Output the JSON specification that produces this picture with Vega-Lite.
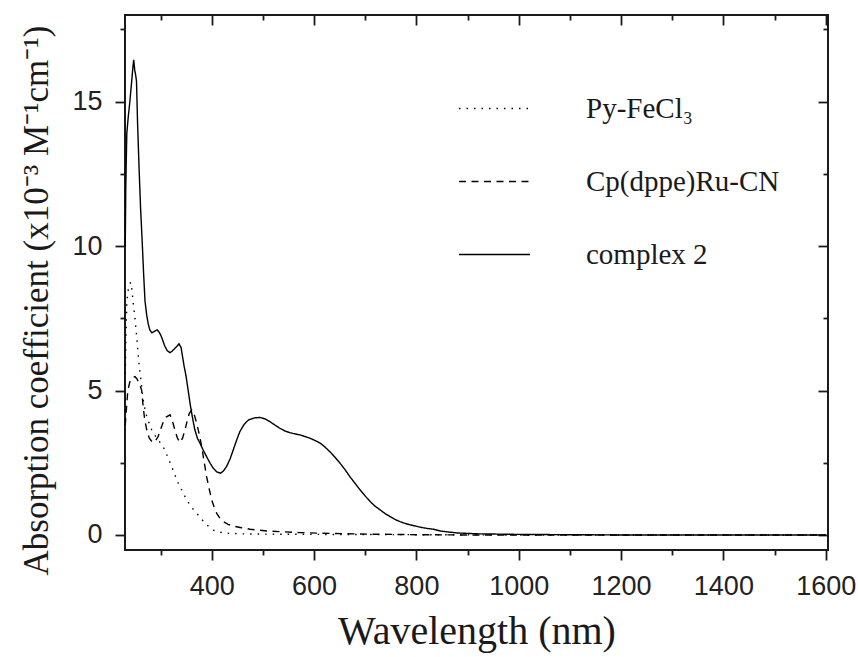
{
  "$schema": "https://vega.github.io/schema/vega-lite/v6.json",
  "width": 703,
  "height": 535,
  "autosize": {"type": "none"},
  "padding": {"left": 125, "top": 15, "right": 30, "bottom": 107},
  "background": "white",
  "config": {
    "view": {"stroke": "#1a1a1a", "strokeWidth": 2},
    "axis": {"grid": false, "domain": false, "tickColor": "#1a1a1a", "tickWidth": 1.8, "labelFont": "Liberation Sans", "labelFontSize": 27, "labelColor": "#222222", "titleFont": "Liberation Serif", "titleFontWeight": "normal", "titleColor": "#1a1a1a"}
  },
  "data": {"values": [
    {"s":"complex 2","w":231,"a":10.0},{"s":"complex 2","w":232,"a":12.0},{"s":"complex 2","w":234,"a":13.9},{"s":"complex 2","w":237,"a":14.5},{"s":"complex 2","w":240,"a":15.0},{"s":"complex 2","w":243,"a":15.6},{"s":"complex 2","w":246,"a":16.2},{"s":"complex 2","w":247.5,"a":16.45},{"s":"complex 2","w":249.5,"a":16.1},{"s":"complex 2","w":251.5,"a":15.9},{"s":"complex 2","w":253,"a":15.7},{"s":"complex 2","w":255,"a":14.3},{"s":"complex 2","w":258,"a":12.7},{"s":"complex 2","w":261,"a":11.3},{"s":"complex 2","w":264.5,"a":10.0},{"s":"complex 2","w":267,"a":9.0},{"s":"complex 2","w":269.6,"a":8.1},{"s":"complex 2","w":273,"a":7.6},{"s":"complex 2","w":276,"a":7.3},{"s":"complex 2","w":279,"a":7.1},{"s":"complex 2","w":283,"a":7.0},{"s":"complex 2","w":288,"a":7.05},{"s":"complex 2","w":293.5,"a":7.1},{"s":"complex 2","w":298,"a":7.0},{"s":"complex 2","w":302,"a":6.85},{"s":"complex 2","w":308,"a":6.55},{"s":"complex 2","w":313,"a":6.38},{"s":"complex 2","w":318.5,"a":6.31},{"s":"complex 2","w":323,"a":6.37},{"s":"complex 2","w":328,"a":6.46},{"s":"complex 2","w":333,"a":6.55},{"s":"complex 2","w":336,"a":6.62},{"s":"complex 2","w":338,"a":6.55},{"s":"complex 2","w":340,"a":6.5},{"s":"complex 2","w":343,"a":6.17},{"s":"complex 2","w":346,"a":5.85},{"s":"complex 2","w":350,"a":5.48},{"s":"complex 2","w":354,"a":5.0},{"s":"complex 2","w":357.6,"a":4.56},{"s":"complex 2","w":362,"a":4.1},{"s":"complex 2","w":367,"a":3.64},{"s":"complex 2","w":372,"a":3.35},{"s":"complex 2","w":377,"a":3.18},{"s":"complex 2","w":383,"a":2.95},{"s":"complex 2","w":390,"a":2.71},{"s":"complex 2","w":397,"a":2.48},{"s":"complex 2","w":403,"a":2.31},{"s":"complex 2","w":410,"a":2.18},{"s":"complex 2","w":417.6,"a":2.14},{"s":"complex 2","w":423,"a":2.22},{"s":"complex 2","w":429,"a":2.37},{"s":"complex 2","w":436,"a":2.64},{"s":"complex 2","w":442,"a":2.94},{"s":"complex 2","w":449,"a":3.3},{"s":"complex 2","w":455,"a":3.58},{"s":"complex 2","w":463,"a":3.82},{"s":"complex 2","w":471.6,"a":3.98},{"s":"complex 2","w":483,"a":4.05},{"s":"complex 2","w":494,"a":4.07},{"s":"complex 2","w":504,"a":4.02},{"s":"complex 2","w":514,"a":3.92},{"s":"complex 2","w":524,"a":3.8},{"s":"complex 2","w":533.5,"a":3.69},{"s":"complex 2","w":543,"a":3.6},{"s":"complex 2","w":553,"a":3.54},{"s":"complex 2","w":563,"a":3.5},{"s":"complex 2","w":573,"a":3.46},{"s":"complex 2","w":582,"a":3.41},{"s":"complex 2","w":592,"a":3.35},{"s":"complex 2","w":602,"a":3.27},{"s":"complex 2","w":612,"a":3.18},{"s":"complex 2","w":621,"a":3.05},{"s":"complex 2","w":631,"a":2.88},{"s":"complex 2","w":641,"a":2.69},{"s":"complex 2","w":651,"a":2.48},{"s":"complex 2","w":661,"a":2.25},{"s":"complex 2","w":670,"a":2.02},{"s":"complex 2","w":680,"a":1.79},{"s":"complex 2","w":690,"a":1.56},{"s":"complex 2","w":700,"a":1.35},{"s":"complex 2","w":710,"a":1.15},{"s":"complex 2","w":719,"a":1.0},{"s":"complex 2","w":729,"a":0.87},{"s":"complex 2","w":739,"a":0.74},{"s":"complex 2","w":749,"a":0.63},{"s":"complex 2","w":758,"a":0.54},{"s":"complex 2","w":768,"a":0.46},{"s":"complex 2","w":778,"a":0.4},{"s":"complex 2","w":788,"a":0.35},{"s":"complex 2","w":798,"a":0.31},{"s":"complex 2","w":807,"a":0.27},{"s":"complex 2","w":820,"a":0.23},{"s":"complex 2","w":833,"a":0.2},{"s":"complex 2","w":846,"a":0.14},{"s":"complex 2","w":859,"a":0.11},{"s":"complex 2","w":880,"a":0.07},{"s":"complex 2","w":920,"a":0.04},{"s":"complex 2","w":1000,"a":0.02},{"s":"complex 2","w":1100,"a":0.01},{"s":"complex 2","w":1200,"a":0.0},{"s":"complex 2","w":1400,"a":0.0},{"s":"complex 2","w":1600,"a":0.0},

    {"s":"Py-FeCl₃","w":231,"a":5.6},{"s":"Py-FeCl₃","w":232,"a":6.5},{"s":"Py-FeCl₃","w":233,"a":7.4},{"s":"Py-FeCl₃","w":234,"a":8.0},{"s":"Py-FeCl₃","w":236,"a":8.4},{"s":"Py-FeCl₃","w":238,"a":8.6},{"s":"Py-FeCl₃","w":241.6,"a":8.75},{"s":"Py-FeCl₃","w":244,"a":8.5},{"s":"Py-FeCl₃","w":246.7,"a":8.0},{"s":"Py-FeCl₃","w":250,"a":7.5},{"s":"Py-FeCl₃","w":253.4,"a":6.87},{"s":"Py-FeCl₃","w":256,"a":6.3},{"s":"Py-FeCl₃","w":258.4,"a":5.83},{"s":"Py-FeCl₃","w":262,"a":5.3},{"s":"Py-FeCl₃","w":265,"a":4.79},{"s":"Py-FeCl₃","w":269,"a":4.4},{"s":"Py-FeCl₃","w":273,"a":4.1},{"s":"Py-FeCl₃","w":278,"a":3.85},{"s":"Py-FeCl₃","w":282.7,"a":3.64},{"s":"Py-FeCl₃","w":289,"a":3.45},{"s":"Py-FeCl₃","w":295.6,"a":3.29},{"s":"Py-FeCl₃","w":302,"a":3.12},{"s":"Py-FeCl₃","w":308.7,"a":2.94},{"s":"Py-FeCl₃","w":315,"a":2.65},{"s":"Py-FeCl₃","w":321.8,"a":2.37},{"s":"Py-FeCl₃","w":328,"a":2.08},{"s":"Py-FeCl₃","w":334.7,"a":1.79},{"s":"Py-FeCl₃","w":343,"a":1.5},{"s":"Py-FeCl₃","w":351,"a":1.21},{"s":"Py-FeCl₃","w":361,"a":0.95},{"s":"Py-FeCl₃","w":370.7,"a":0.75},{"s":"Py-FeCl₃","w":379,"a":0.57},{"s":"Py-FeCl₃","w":387,"a":0.41},{"s":"Py-FeCl₃","w":395,"a":0.28},{"s":"Py-FeCl₃","w":403,"a":0.17},{"s":"Py-FeCl₃","w":415,"a":0.1},{"s":"Py-FeCl₃","w":429,"a":0.06},{"s":"Py-FeCl₃","w":460,"a":0.04},{"s":"Py-FeCl₃","w":500,"a":0.03},{"s":"Py-FeCl₃","w":600,"a":0.02},{"s":"Py-FeCl₃","w":800,"a":0.01},{"s":"Py-FeCl₃","w":1000,"a":0.0},{"s":"Py-FeCl₃","w":1600,"a":0.0},

    {"s":"Cp(dppe)Ru-CN","w":231,"a":3.8},{"s":"Cp(dppe)Ru-CN","w":233,"a":4.3},{"s":"Cp(dppe)Ru-CN","w":236,"a":5.0},{"s":"Cp(dppe)Ru-CN","w":240,"a":5.3},{"s":"Cp(dppe)Ru-CN","w":245,"a":5.45},{"s":"Cp(dppe)Ru-CN","w":250,"a":5.48},{"s":"Cp(dppe)Ru-CN","w":254,"a":5.4},{"s":"Cp(dppe)Ru-CN","w":258,"a":5.25},{"s":"Cp(dppe)Ru-CN","w":263,"a":5.02},{"s":"Cp(dppe)Ru-CN","w":266,"a":4.44},{"s":"Cp(dppe)Ru-CN","w":269,"a":4.0},{"s":"Cp(dppe)Ru-CN","w":273,"a":3.64},{"s":"Cp(dppe)Ru-CN","w":278,"a":3.35},{"s":"Cp(dppe)Ru-CN","w":284.6,"a":3.2},{"s":"Cp(dppe)Ru-CN","w":290,"a":3.25},{"s":"Cp(dppe)Ru-CN","w":295,"a":3.4},{"s":"Cp(dppe)Ru-CN","w":300,"a":3.65},{"s":"Cp(dppe)Ru-CN","w":305.4,"a":3.92},{"s":"Cp(dppe)Ru-CN","w":311,"a":4.08},{"s":"Cp(dppe)Ru-CN","w":318.5,"a":4.16},{"s":"Cp(dppe)Ru-CN","w":323,"a":3.95},{"s":"Cp(dppe)Ru-CN","w":328,"a":3.64},{"s":"Cp(dppe)Ru-CN","w":333,"a":3.35},{"s":"Cp(dppe)Ru-CN","w":338,"a":3.2},{"s":"Cp(dppe)Ru-CN","w":343,"a":3.35},{"s":"Cp(dppe)Ru-CN","w":347.8,"a":3.64},{"s":"Cp(dppe)Ru-CN","w":352,"a":3.95},{"s":"Cp(dppe)Ru-CN","w":356,"a":4.2},{"s":"Cp(dppe)Ru-CN","w":361,"a":4.33},{"s":"Cp(dppe)Ru-CN","w":366,"a":4.15},{"s":"Cp(dppe)Ru-CN","w":370.7,"a":3.87},{"s":"Cp(dppe)Ru-CN","w":376,"a":3.45},{"s":"Cp(dppe)Ru-CN","w":380.5,"a":3.06},{"s":"Cp(dppe)Ru-CN","w":385,"a":2.55},{"s":"Cp(dppe)Ru-CN","w":390,"a":2.02},{"s":"Cp(dppe)Ru-CN","w":395,"a":1.6},{"s":"Cp(dppe)Ru-CN","w":400,"a":1.21},{"s":"Cp(dppe)Ru-CN","w":405,"a":0.95},{"s":"Cp(dppe)Ru-CN","w":409.8,"a":0.75},{"s":"Cp(dppe)Ru-CN","w":416,"a":0.58},{"s":"Cp(dppe)Ru-CN","w":422.7,"a":0.46},{"s":"Cp(dppe)Ru-CN","w":432,"a":0.37},{"s":"Cp(dppe)Ru-CN","w":442,"a":0.31},{"s":"Cp(dppe)Ru-CN","w":458,"a":0.25},{"s":"Cp(dppe)Ru-CN","w":475,"a":0.2},{"s":"Cp(dppe)Ru-CN","w":490,"a":0.17},{"s":"Cp(dppe)Ru-CN","w":507.5,"a":0.14},{"s":"Cp(dppe)Ru-CN","w":540,"a":0.11},{"s":"Cp(dppe)Ru-CN","w":572.6,"a":0.08},{"s":"Cp(dppe)Ru-CN","w":640,"a":0.05},{"s":"Cp(dppe)Ru-CN","w":703,"a":0.03},{"s":"Cp(dppe)Ru-CN","w":800,"a":0.01},{"s":"Cp(dppe)Ru-CN","w":900,"a":0.0},{"s":"Cp(dppe)Ru-CN","w":1600,"a":0.0}
  ]},
  "layer": [
    {
      "mark": {"type": "line", "color": "black", "strokeWidth": 1.4},
      "encoding": {
        "x": {"field": "w", "type": "quantitative", "scale": {"domain": [230.5, 1604.5], "nice": false, "zero": false},
          "axis": {"orient": "bottom", "values": [300,400,500,600,700,800,900,1000,1100,1200,1300,1400,1500,1600], "format": "d",
            "tickSize": {"condition": {"test": "datum.value % 200 === 0", "value": 10}, "value": 5},
            "labelExpr": "datum.value % 200 === 0 ? datum.label : ''", "labelPadding": 13, "labelFlush": false, "labelOverlap": false,
            "title": "Wavelength (nm)", "titleFontSize": 40, "titleBaseline": "alphabetic", "titleY": 93, "titleX": 351.5, "titleAlign": "center"}},
        "y": {"field": "a", "type": "quantitative", "scale": {"domain": [-0.52, 18], "nice": false, "zero": false},
          "axis": {"orient": "left", "values": [0,2.5,5,7.5,10,12.5,15,17.5],
            "tickSize": {"condition": {"test": "datum.value % 5 === 0", "value": 10}, "value": 5},
            "labelExpr": "datum.value % 5 === 0 ? datum.label : ''", "labelPadding": 13, "labelFlush": false, "labelOverlap": false,
            "title": "Absorption coefficient (x10⁻³ M⁻¹cm⁻¹)", "titleFontSize": 35, "titleAngle": 270, "titleBaseline": "alphabetic", "titleAlign": "center", "titleX": -78, "titleY": 285}},
        "strokeDash": {"field": "s", "type": "nominal",
          "scale": {"domain": ["Py-FeCl₃", "Cp(dppe)Ru-CN", "complex 2"], "range": [[1.5, 6], [7, 5.5], [1, 0]]},
          "legend": {"orient": "none", "legendX": 333, "legendY": 57, "title": null, "symbolType": "stroke", "symbolSize": 5041, "symbolStrokeWidth": 1.4, "symbolStrokeColor": "black", "labelFont": "Liberation Serif", "labelFontSize": 29, "labelColor": "#1a1a1a", "labelOffset": 55, "rowPadding": 21, "padding": 0, "labelLimit": 400}}
      }
    },
    {
      "mark": {"type": "point", "opacity": 0, "size": 0},
      "encoding": {
        "x": {"field": "w", "type": "quantitative",
          "axis": {"orient": "top", "values": [300,400,500,600,700,800,900,1000,1100,1200,1300,1400,1500,1600],
            "tickSize": {"condition": {"test": "datum.value % 200 === 0", "value": -10}, "value": -5},
            "labels": false, "title": null}},
        "y": {"field": "a", "type": "quantitative",
          "axis": {"orient": "right", "values": [0,2.5,5,7.5,10,12.5,15,17.5],
            "tickSize": {"condition": {"test": "datum.value % 5 === 0", "value": -10}, "value": -5},
            "labels": false, "title": null}}
      }
    }
  ],
  "resolve": {"axis": {"x": "independent", "y": "independent"}}
}
